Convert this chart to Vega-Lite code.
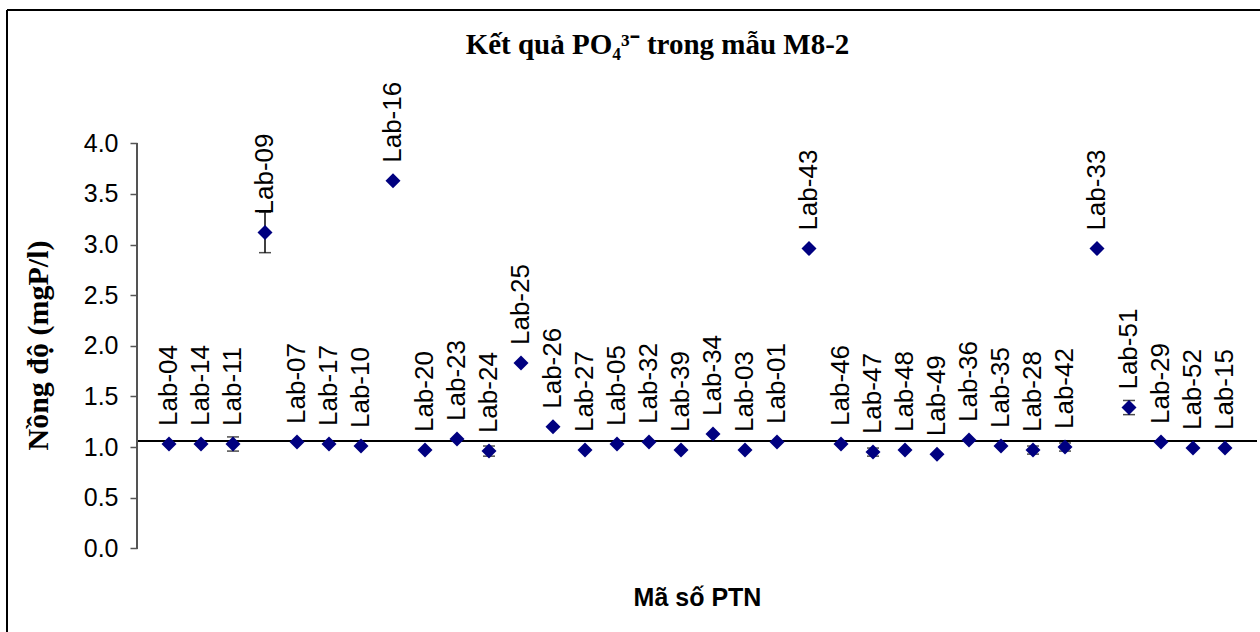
{
  "$schema": "https://vega.github.io/schema/vega-lite/v6.json",
  "width": 1253,
  "height": 622,
  "autosize": {"type": "none"},
  "padding": {"left": 7, "top": 10, "right": 0, "bottom": 0},
  "background": "white",
  "config": {"view": {"stroke": null}},
  "title": {
    "text": "Kết quả PO₄³⁻ trong mẫu M8-2",
    "font": "Liberation Serif",
    "fontSize": 29,
    "fontWeight": "bold",
    "color": "black",
    "anchor": "middle",
    "baseline": "alphabetic",
    "offset": -45,
    "dx": 24,
    "dy": 29
  },
  "data": {
    "values": [
      {"lab": "Lab-04", "idx": 1, "value": 1.03, "err": 0},
      {"lab": "Lab-14", "idx": 2, "value": 1.03, "err": 0},
      {"lab": "Lab-11", "idx": 3, "value": 1.03, "err": 0.07},
      {"lab": "Lab-09", "idx": 4, "value": 3.12, "err": 0.2},
      {"lab": "Lab-07", "idx": 5, "value": 1.05, "err": 0},
      {"lab": "Lab-17", "idx": 6, "value": 1.03, "err": 0},
      {"lab": "Lab-10", "idx": 7, "value": 1.01, "err": 0},
      {"lab": "Lab-16", "idx": 8, "value": 3.63, "err": 0},
      {"lab": "Lab-20", "idx": 9, "value": 0.97, "err": 0},
      {"lab": "Lab-23", "idx": 10, "value": 1.08, "err": 0},
      {"lab": "Lab-24", "idx": 11, "value": 0.96, "err": 0.05},
      {"lab": "Lab-25", "idx": 12, "value": 1.83, "err": 0},
      {"lab": "Lab-26", "idx": 13, "value": 1.2, "err": 0},
      {"lab": "Lab-27", "idx": 14, "value": 0.97, "err": 0},
      {"lab": "Lab-05", "idx": 15, "value": 1.03, "err": 0},
      {"lab": "Lab-32", "idx": 16, "value": 1.05, "err": 0},
      {"lab": "Lab-39", "idx": 17, "value": 0.97, "err": 0},
      {"lab": "Lab-34", "idx": 18, "value": 1.13, "err": 0},
      {"lab": "Lab-03", "idx": 19, "value": 0.97, "err": 0},
      {"lab": "Lab-01", "idx": 20, "value": 1.05, "err": 0},
      {"lab": "Lab-43", "idx": 21, "value": 2.96, "err": 0},
      {"lab": "Lab-46", "idx": 22, "value": 1.03, "err": 0},
      {"lab": "Lab-47", "idx": 23, "value": 0.95, "err": 0.04},
      {"lab": "Lab-48", "idx": 24, "value": 0.97, "err": 0},
      {"lab": "Lab-49", "idx": 25, "value": 0.93, "err": 0},
      {"lab": "Lab-36", "idx": 26, "value": 1.07, "err": 0},
      {"lab": "Lab-35", "idx": 27, "value": 1.01, "err": 0},
      {"lab": "Lab-28", "idx": 28, "value": 0.97, "err": 0.04},
      {"lab": "Lab-42", "idx": 29, "value": 1.0, "err": 0.04},
      {"lab": "Lab-33", "idx": 30, "value": 2.96, "err": 0},
      {"lab": "Lab-51", "idx": 31, "value": 1.39, "err": 0.07},
      {"lab": "Lab-29", "idx": 32, "value": 1.05, "err": 0},
      {"lab": "Lab-52", "idx": 33, "value": 0.99, "err": 0},
      {"lab": "Lab-15", "idx": 34, "value": 0.99, "err": 0}
    ]
  },
  "layer": [
    {
      "mark": {"type": "rule", "color": "black", "strokeWidth": 2},
      "encoding": {
        "x": {"datum": 0, "type": "quantitative", "title": "Mã số PTN"},
        "x2": {"datum": 35},
        "y": {"datum": 1.06, "type": "quantitative", "title": "Nồng độ (mgP/l)"}
      }
    },
    {
      "mark": {"type": "rule", "color": "#555555", "strokeWidth": 1.5},
      "encoding": {
        "x": {"datum": 0, "type": "quantitative", "title": "Mã số PTN"},
        "y": {"datum": 0, "type": "quantitative", "title": "Nồng độ (mgP/l)"},
        "y2": {"datum": 4}
      }
    },
    {
      "mark": {"type": "rule", "color": "black", "strokeWidth": 2},
      "encoding": {
        "x": {"datum": -4.0625, "type": "quantitative", "title": "Mã số PTN"}
      }
    },
    {
      "mark": {"type": "rule", "color": "black", "strokeWidth": 2},
      "encoding": {
        "y": {"datum": 5.317, "type": "quantitative", "title": "Nồng độ (mgP/l)"}
      }
    },
    {
      "transform": [{"filter": "datum.err > 0"}],
      "mark": {"type": "errorbar", "ticks": true, "color": "black", "thickness": 1.5, "size": 12},
      "encoding": {
        "x": {"field": "idx", "type": "quantitative", "title": "Mã số PTN"},
        "y": {"field": "value", "type": "quantitative", "title": "Nồng độ (mgP/l)"},
        "yError": {"field": "err"}
      }
    },
    {
      "mark": {"type": "point", "shape": "diamond", "filled": true, "color": "#000080", "size": 225, "opacity": 1},
      "encoding": {
        "x": {
          "field": "idx",
          "type": "quantitative",
          "title": "Mã số PTN",
          "scale": {"domain": [-4.0625, 35.09375], "nice": false, "zero": false},
          "axis": {
            "title": "Mã số PTN",
            "labels": false,
            "ticks": false,
            "domain": false,
            "grid": false,
            "titleFont": "Liberation Sans",
            "titleFontSize": 25,
            "titleFontWeight": "bold",
            "titleColor": "black",
            "titleX": 690,
            "titleY": -27,
            "titleBaseline": "alphabetic",
            "titleAlign": "center"
          }
        },
        "y": {
          "field": "value",
          "type": "quantitative",
          "title": "Nồng độ (mgP/l)",
          "scale": {"domain": [-0.827, 5.317], "nice": false, "zero": false},
          "axis": {
            "title": "Nồng độ (mgP/l)",
            "offset": -130,
            "values": [0, 0.5, 1, 1.5, 2, 2.5, 3, 3.5, 4],
            "format": ".1f",
            "domain": false,
            "grid": false,
            "tickSize": 7,
            "tickColor": "#555555",
            "tickWidth": 1.5,
            "labelPadding": 12,
            "labelFont": "Liberation Sans",
            "labelFontSize": 25,
            "labelColor": "black",
            "titleFont": "Liberation Serif",
            "titleFontSize": 30,
            "titleFontWeight": "bold",
            "titleColor": "black",
            "titleAngle": -90,
            "titleX": -90,
            "titleY": 335,
            "titleBaseline": "alphabetic",
            "titleAlign": "center"
          }
        }
      }
    },
    {
      "mark": {
        "type": "text",
        "angle": 270,
        "align": "left",
        "baseline": "middle",
        "dx": 18,
        "font": "Liberation Sans",
        "fontSize": 26,
        "color": "black"
      },
      "encoding": {
        "x": {"field": "idx", "type": "quantitative", "title": "Mã số PTN"},
        "y": {"field": "value", "type": "quantitative", "title": "Nồng độ (mgP/l)"},
        "text": {"field": "lab", "type": "nominal"}
      }
    }
  ]
}
